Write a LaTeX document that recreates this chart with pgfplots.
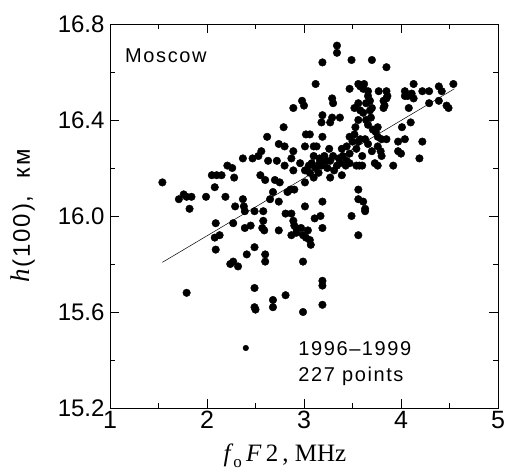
\documentclass[border=0pt]{standalone}
\usepackage{fontspec}
\setmainfont{Liberation Sans}
\newfontfamily\serif{Liberation Serif}
\newfontfamily\spaced[LetterSpace=8]{Liberation Sans}
\usepackage{pgfplots}
\pgfplotsset{compat=1.18}
\begin{document}
\begin{tikzpicture}
\useasboundingbox (-110pt,-64pt) rectangle (395pt,408pt);
\begin{axis}[
  scale only axis, width=388pt, height=384pt,
  xmin=1, xmax=5, ymin=15.2, ymax=16.8,
  xtick={1,2,3,4,5}, ytick={15.2,15.6,16.0,16.4,16.8},
  minor x tick num=1, minor y tick num=1,
  tick align=inside,
  major tick length=9pt, minor tick length=5pt,
  axis line style={line width=0.8pt},
  every tick/.style={line width=0.6pt, black},
  /pgf/number format/assume math mode=true,
  yticklabel style={/pgf/number format/fixed, /pgf/number format/fixed zerofill, /pgf/number format/precision=1, font=\fontsize{24}{28}\selectfont, xshift=-2pt},
  xticklabel style={font=\fontsize{25}{28}\selectfont},
  every axis y label/.style={at={(axis description cs:-0.224,0.5)}, rotate=90, anchor=center},
  every axis x label/.style={at={(axis description cs:0.451,-0.1406)}, anchor=base},
  ylabel={{\serif\itshape\fontsize{27}{30}\selectfont h}\,{\spaced\fontsize{24}{28}\selectfont(100),\ \ км}},
  xlabel={\serif\fontsize{25}{28}\selectfont\textit{f}\raisebox{-0.45ex}{\fontsize{17}{19}\selectfont o}\,\textit{F}\,2\,, MHz},
  clip=false,
]
\addplot[only marks, mark=*, mark size=3.8pt, black] coordinates {
(1.54,16.14)(1.71,16.07)(1.76,16.09)(1.79,16.08)(1.84,16.08)(1.82,16.03)(1.99,16.08)(1.79,15.68)
(2.05,16.17)(2.10,16.17)(2.15,16.17)(2.08,16.12)(2.19,16.08)(2.21,16.21)(2.26,16.20)(2.28,16.16)
(2.09,15.97)(2.08,15.91)(2.13,15.92)(2.09,15.86)(2.27,15.97)(2.29,16.04)(2.37,16.07)(2.38,16.04)
(2.39,16.02)(2.24,15.80)(2.27,15.81)(2.32,15.79)(2.37,16.24)(2.39,15.95)(2.45,15.96)(2.41,15.84)
(2.49,15.87)(2.49,15.70)(2.50,15.61)(2.49,15.62)(2.49,16.02)(2.47,16.24)
(2.53,16.25)(2.56,16.27)(2.62,16.33)(2.55,16.17)(2.60,16.15)(2.63,16.23)(2.58,16.02)(2.58,15.98)
(2.57,15.95)(2.59,15.94)(2.60,15.84)(2.60,15.81)(2.68,15.65)(2.68,15.62)(2.81,15.67)(2.70,16.15)
(2.68,16.10)(2.74,16.30)(2.79,16.37)(2.72,16.23)(2.80,16.29)(2.65,16.07)(2.74,16.06)(2.74,15.94)
(2.81,16.01)(2.86,16.11)(2.90,16.11)(2.89,16.45)(2.98,16.48)(3.00,16.46)(2.89,16.27)(2.87,16.24)
(2.80,16.21)(2.89,16.19)(2.96,16.22)(2.87,16.01)(2.89,15.98)(2.90,15.96)(2.87,15.92)(2.92,15.95)
(2.92,15.93)(2.97,15.95)(2.99,15.92)(2.99,15.81)(2.99,15.60)(2.75,16.14)(2.83,16.10)
(3.01,16.04)(3.04,15.94)(3.06,15.90)(3.07,15.88)(3.02,15.91)(3.11,15.99)(3.17,16.00)(3.19,15.95)
(3.19,16.06)(3.19,15.73)(3.19,15.71)(3.19,15.63)(3.02,16.34)(3.06,16.34)(3.10,16.29)(3.01,16.29)
(3.01,16.14)(3.01,16.19)(3.05,16.21)(3.08,16.22)(3.10,16.25)(3.10,16.16)(3.12,16.55)(3.19,16.64)
(3.19,16.42)(3.18,16.39)(3.19,16.33)(3.16,16.24)(3.16,16.22)(3.18,16.21)(3.21,16.25)(3.27,16.23)
(3.30,16.25)(3.34,16.21)(3.27,16.16)(3.29,16.49)(3.30,16.47)(3.29,16.41)(3.27,16.39)(3.37,16.41)
(3.34,16.71)(3.34,16.68)(3.49,16.65)(3.47,16.53)(3.39,16.17)(3.40,16.25)(3.44,16.29)(3.47,16.26)
(3.47,16.22)(3.39,16.28)(3.47,16.33)(3.26,16.28)(3.13,16.29)(3.22,16.23)(3.36,16.24)(3.43,16.21)
(3.24,16.20)(3.15,16.18)(3.06,16.18)(3.49,16.00)(3.37,16.22)(3.31,16.19)(3.44,16.23)(3.12,16.20)
(3.54,16.21)(3.57,16.21)(3.60,16.21)(3.52,16.34)(3.53,16.37)(3.56,16.40)(3.61,16.43)(3.64,16.47)
(3.68,16.44)(3.58,16.44)(3.64,16.40)(3.66,16.38)(3.58,16.32)(3.63,16.32)(3.66,16.30)(3.70,16.27)
(3.61,16.53)(3.66,16.50)(3.62,16.55)(3.56,16.55)(3.58,16.54)(3.66,16.52)(3.68,16.48)(3.70,16.45)
(3.69,16.41)(3.71,16.36)(3.70,16.65)(3.85,16.62)(3.77,16.52)(3.85,16.52)(3.85,16.49)(3.82,16.48)
(3.83,16.46)(3.82,16.45)(3.86,16.50)(3.76,16.37)(3.76,16.33)(3.80,16.32)(3.85,16.32)(3.76,16.29)
(3.79,16.27)(3.76,16.21)(3.80,16.25)(3.92,16.21)(3.56,16.11)(3.56,16.07)(3.61,16.06)(3.63,16.03)
(3.63,16.02)(3.56,15.92)(3.56,16.31)(3.54,16.28)(3.60,16.25)(3.52,16.45)(3.56,16.47)(3.73,16.22)
(3.74,16.35)(3.50,16.31)
(4.04,16.52)(4.13,16.55)(4.11,16.51)(4.04,16.50)(4.13,16.49)(4.22,16.52)(4.29,16.52)(4.39,16.54)
(4.42,16.52)(4.54,16.55)(4.29,16.47)(4.39,16.48)(4.47,16.46)(4.08,16.45)(4.01,16.37)(4.10,16.39)
(3.97,16.31)(4.04,16.32)(3.97,16.27)(4.00,16.26)(4.22,16.31)(4.19,16.24)(4.49,16.45)(4.07,16.50)
};
\addplot[black, line width=0.5pt] coordinates {(1.54,15.807)(4.55,16.53)};
\addplot[only marks, mark=*, mark size=2.8pt, black] coordinates {(2.40,15.45)};
\node[anchor=base west, inner sep=0pt, font=\spaced\fontsize{20}{22}\selectfont] at (axis cs:1.155,16.64) {Moscow};
\node[anchor=base west, inner sep=0pt, font=\spaced\fontsize{20}{22}\selectfont] at (axis cs:2.94,15.417) {1996–1999};
\node[anchor=base west, inner sep=0pt, font=\spaced\fontsize{20}{22}\selectfont] at (axis cs:2.94,15.31) {227 points};
\end{axis}
\end{tikzpicture}
\end{document}
